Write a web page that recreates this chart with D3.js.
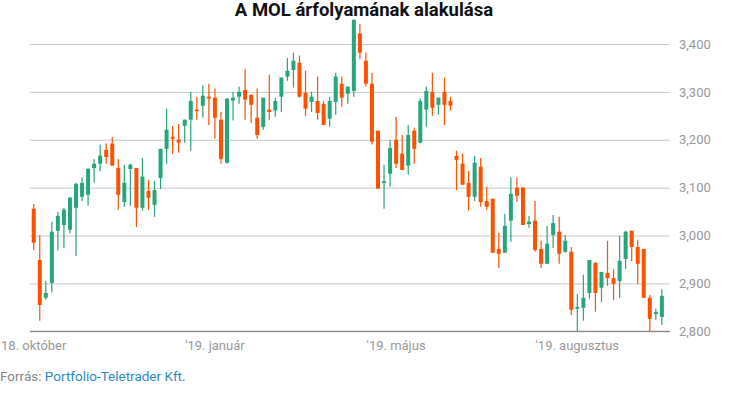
<!DOCTYPE html>
<html>
<head>
<meta charset="utf-8">
<script src="https://cdn.jsdelivr.net/npm/d3@7"></script>
<style>
  html, body { margin: 0; padding: 0; background: #fff; }
  svg { display: block; font-family: Roboto, "Noto Sans", sans-serif; }
</style>
</head>
<body>
<svg id="chart" width="730" height="410"></svg>
<script>
// ---- data ----
const openV  = [3056,2949,2870,2901,3010,3022,3012,3058,3081,3085,3141,3150,3179,3192,3141,
                3070,3139,3141,3058,3093,3064,3120,3181,3206,3200,3229,3242,3263,3271,3290,
                3288,3242,3152,3282,3290,3304,3294,3246,3227,3263,3261,3290,3332,3346,3361,
                3298,3279,3281,3275,3244,3279,3317,3296,3302,3422,3365,3317,3219,3110,3129,3200,
                3171,3146,3219,3194,3263,3300,3273,3300,3281,3166,3150,3110,3081,3144,3072,
                3077,2972,2964,3031,3100,3100,3024,3031,2972,2941,3001,3008,2966,2966,2847,
                2849,2880,2943,2891,2922,2911,2905,2951,3010,2976,2972,2870,2836,2830];
const highV  = [3066,3001,2905,3029,3049,3058,3081,3110,3121,3141,3160,3190,3192,3206,3160,
                3148,3150,3141,3162,3116,3114,3181,3265,3229,3233,3242,3300,3290,3313,3317,
                3307,3258,3286,3300,3311,3348,3294,3307,3288,3336,3288,3330,3371,3382,3376,
                3344,3300,3332,3281,3290,3340,3332,3311,3452,3442,3382,3340,3219,3148,3200,3248,
                3210,3231,3225,3286,3311,3340,3288,3330,3290,3177,3171,3135,3166,3162,3102,
                3077,3006,3045,3121,3121,3102,3041,3072,2989,3020,3043,3039,3001,2976,2878,
                2918,2949,2945,2924,2989,2930,2999,3010,3010,2991,2972,2876,2847,2888];
const lowV   = [2970,2822,2866,2881,2969,2974,3004,2957,3072,3062,3110,3135,3150,3146,3054,
                3060,3062,3018,3052,3054,3039,3097,3150,3171,3173,3194,3177,3242,3246,3231,
                3202,3150,3150,3240,3275,3242,3235,3202,3221,3242,3248,3258,3323,3309,3288,
                3250,3258,3242,3231,3227,3252,3269,3275,3290,3369,3311,3190,3098,3056,3102,3141,
                3137,3127,3150,3192,3227,3250,3252,3231,3261,3095,3106,3052,3072,3060,3054,
                2964,2932,2964,2987,3070,3022,3016,2966,2932,2941,2974,2941,2964,2834,2800,
                2822,2868,2841,2861,2895,2865,2870,2930,2947,2899,2870,2800,2824,2813];
const closeV = [2985,2855,2880,3008,3041,3054,3079,3108,3110,3139,3150,3167,3164,3146,3085,
                3110,3148,3058,3123,3079,3095,3181,3221,3202,3194,3242,3281,3261,3292,3286,
                3246,3160,3286,3288,3300,3284,3273,3210,3288,3258,3281,3330,3344,3365,3290,
                3265,3290,3256,3231,3281,3332,3288,3311,3450,3382,3317,3196,3098,3114,3183,3150,
                3137,3210,3181,3281,3302,3267,3288,3273,3271,3158,3106,3081,3152,3070,3060,
                2964,2962,3020,3087,3083,3022,3029,2970,2941,2983,3026,2962,2989,2845,2851,
                2870,2949,2880,2924,2911,2899,2947,3008,2976,2941,2870,2826,2840,2874];

const yTicks = [2800, 2900, 3000, 3100, 3200, 3300, 3400];
const xTickIndex  = [0, 30, 60, 90];
const xTickLabels = ["18. október", "'19. január", "'19. május", "'19. augusztus"];

const titleText = "A MOL árfolyamának alakulása";
const sourceLabel = "Forrás: ";
const sourceName = "Portfolio-Teletrader Kft.";

// ---- layout ----
const W = 730, H = 410;
const plotL = 30, plotR = 670, plotT = 44, plotB = 331.3;
const UP = "#26a57e", DOWN = "#fb5100";

const svg = d3.select("#chart");

const x = d3.scaleBand()
  .domain(d3.range(openV.length))
  .range([30.7, 664.9])
  .paddingInner(0.34)
  .paddingOuter(0.17);
const y = d3.scaleLinear().domain([2800, 3400]).range([plotB, plotT]);

// gridlines + right labels
const yAxis = svg.append("g")
  .attr("transform", `translate(${plotR},0)`)
  .call(d3.axisRight(y).tickValues(yTicks).tickSize(-(plotR - plotL)).tickPadding(9)
        .tickFormat(d3.format(",")));
yAxis.select(".domain").remove();
yAxis.selectAll(".tick line").attr("stroke", "#c8c8c8").attr("stroke-width", 1);
yAxis.selectAll(".tick text")
  .attr("fill", "#999")
  .style("font-size", "13px")
  .style("font-family", "Roboto, sans-serif");

// baseline
svg.append("line")
  .attr("x1", plotL).attr("x2", plotR)
  .attr("y1", y(2800)).attr("y2", y(2800))
  .attr("stroke", "#888").attr("stroke-width", 1.2);

// candles
const data = openV.map((o, i) => ({ i, o, h: highV[i], l: lowV[i], c: closeV[i] }));
const cx = i => x(i) + x.bandwidth() / 2;

const g = svg.append("g");
const cnd = g.selectAll("g.c").data(data).join("g").attr("class", "c");
cnd.append("line")
  .attr("x1", d => cx(d.i)).attr("x2", d => cx(d.i))
  .attr("y1", d => y(d.h)).attr("y2", d => y(d.l))
  .attr("stroke", d => d.c >= d.o ? UP : DOWN)
  .attr("stroke-width", 1.2);
cnd.append("rect")
  .attr("x", d => x(d.i))
  .attr("width", x.bandwidth())
  .attr("y", d => y(Math.max(d.o, d.c)))
  .attr("height", d => Math.max(1.6, Math.abs(y(d.o) - y(d.c))))
  .attr("fill", d => d.c >= d.o ? UP : DOWN);

// x labels
svg.append("g").selectAll("text").data(xTickIndex).join("text")
  .attr("x", d => cx(d))
  .attr("y", 350)
  .attr("text-anchor", "middle")
  .attr("fill", "#999")
  .style("font-size", "13px")
  .text((d, k) => xTickLabels[k])
  .each(function () {
    const bb = this.getBBox();
    if (bb.x < 0) d3.select(this).attr("text-anchor", "start").attr("x", 0);
  });

// title
svg.append("text")
  .attr("x", 364).attr("y", 15.5)
  .attr("text-anchor", "middle")
  .attr("fill", "#111")
  .style("font-size", "18.5px").style("font-weight", "bold")
  .text(titleText);

// source
const src = svg.append("text").attr("x", 0).attr("y", 381).style("font-size", "13.5px");
src.append("tspan").attr("fill", "#888").text(sourceLabel);
src.append("tspan").attr("fill", "#2b8ac6").text(sourceName);
</script>
</body>
</html>
